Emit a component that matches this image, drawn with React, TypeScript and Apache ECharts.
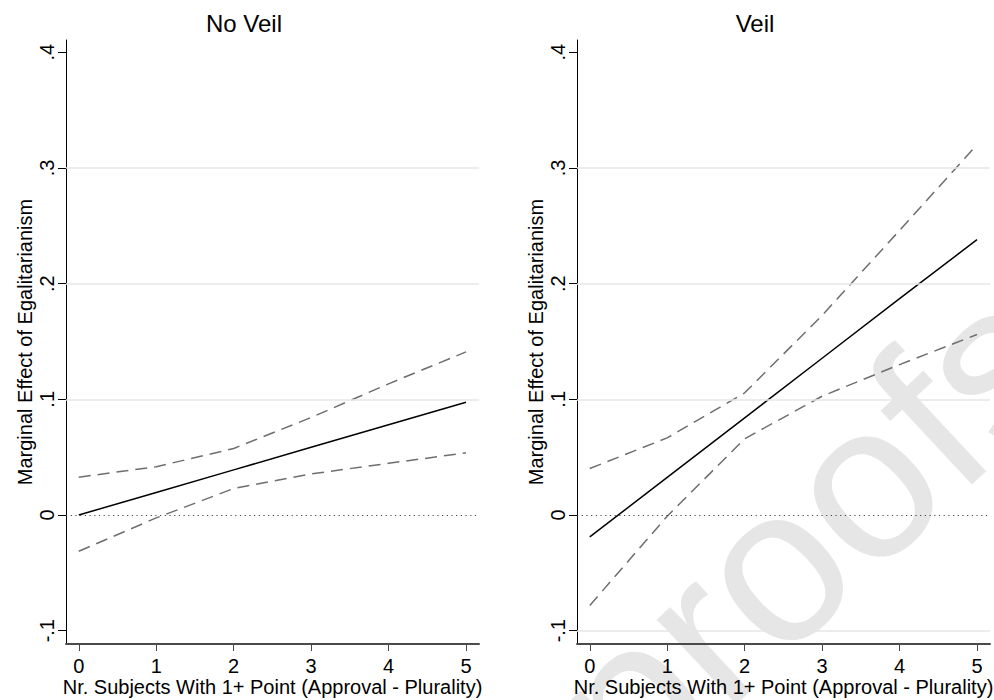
import React, { useEffect, useRef } from "react";
import * as echarts from "echarts";

const xValues = [0, 1, 2, 3, 4, 5];
const yTicks = [-0.1, 0, 0.1, 0.2, 0.3, 0.4];

const noVeilEstimate = [0.0, 0.0195, 0.039, 0.0585, 0.078, 0.0975];
const noVeilUpper = [0.0327, 0.0417, 0.0575, 0.0843, 0.1134, 0.141];
const noVeilLower = [-0.0313, -0.0025, 0.0229, 0.0355, 0.0447, 0.0537];

const veilEstimate = [-0.0189, 0.0325, 0.084, 0.1355, 0.187, 0.238];
const veilUpper = [0.0402, 0.0667, 0.1056, 0.1725, 0.246, 0.32];
const veilLower = [-0.0782, -0.001, 0.0659, 0.1027, 0.13, 0.156];

const panelTitles = ["No Veil", "Veil"];
const xAxisTitle = "Nr. Subjects With 1+ Point (Approval - Plurality)";
const yAxisTitle = "Marginal Effect of Egalitarianism";
const noVeilGridLines = [0.1, 0.2, 0.3];
const veilGridLines = [-0.1, 0.1, 0.2, 0.3];
const watermark = "proofs";

const FONT = "'Liberation Sans', Arial, Helvetica, sans-serif";

const fmtY = (v: number) => {
  if (Math.abs(v) < 1e-9) return "0";
  const s = (Math.round(v * 10) / 10).toString();
  return s.replace("0.", ".");
};

const pairs = (ys: number[]) => xValues.map((x, i) => [x, ys[i]]);

export default function App() {
  const ref = useRef<HTMLDivElement>(null);
  useEffect(() => {
    if (!ref.current) return;
    const chart = echarts.init(ref.current, null, { renderer: "svg" });

    const grids = [
      { left: 66, top: 40, width: 413, height: 604, outerBoundsMode: "none", containLabel: false },
      { left: 577, top: 40, width: 413, height: 604, outerBoundsMode: "none", containLabel: false },
    ];

    const xAxes = [0, 1].map((i) => ({
      type: "value",
      gridIndex: i,
      min: -0.165,
      max: 5.168,
      name: xAxisTitle,
      nameLocation: "middle",
      nameGap: 33,
      nameMoveOverlap: false,
      nameTextStyle: { fontFamily: FONT, fontSize: 20, color: "#000" },
      axisLine: {
        show: true,
        onZero: false,
        lineStyle: { color: "#4a4a4a", width: 2 },
      },
      axisTick: {
        show: true,
        customValues: xValues,
        length: 7,
        lineStyle: { color: "#4a4a4a", width: 1 },
      },
      axisLabel: {
        customValues: xValues,
        margin: 12,
        fontFamily: FONT,
        fontSize: 20,
        color: "#000",
        formatter: (v: number) => String(v),
      },
      splitLine: { show: false },
    }));

    const yAxes = [0, 1].map((i) => ({
      type: "value",
      gridIndex: i,
      min: -0.1115,
      max: 0.4106,
      name: yAxisTitle,
      nameLocation: "middle",
      nameGap: 31,
      nameMoveOverlap: false,
      nameTextStyle: { fontFamily: FONT, fontSize: 20, color: "#000" },
      axisLine: {
        show: true,
        onZero: false,
        lineStyle: { color: "#000", width: 1 },
      },
      axisTick: {
        show: true,
        customValues: yTicks,
        length: 8,
        lineStyle: { color: "#000", width: 1 },
      },
      axisLabel: {
        customValues: yTicks,
        rotate: 90,
        margin: 9,
        fontFamily: FONT,
        fontSize: 20,
        color: "#000",
        formatter: (v: number) => fmtY(v),
      },
      splitLine: { show: false },
    }));

    const makeSeries = (
      idx: number,
      est: number[],
      up: number[],
      lo: number[],
      gridLines: number[]
    ) => [
      {
        type: "line",
        xAxisIndex: idx,
        yAxisIndex: idx,
        data: [],
        silent: true,
        z: 1,
        markLine: {
          silent: true,
          symbol: "none",
          label: { show: false },
          lineStyle: { color: "#e6e6e6", width: 1.5, type: "solid" },
          data: gridLines.map((v) => ({ yAxis: v })),
        },
      },
      {
        type: "line",
        xAxisIndex: idx,
        yAxisIndex: idx,
        data: [],
        silent: true,
        z: 2,
        markLine: {
          silent: true,
          symbol: "none",
          label: { show: false },
          lineStyle: { color: "#444", width: 1, type: [1.2, 3.5] },
          data: [{ yAxis: 0 }],
        },
      },
      {
        type: "line",
        xAxisIndex: idx,
        yAxisIndex: idx,
        data: pairs(up),
        symbol: "none",
        z: 3,
        lineStyle: { color: "#6e6e6e", width: 1.5, type: [12, 7] },
      },
      {
        type: "line",
        xAxisIndex: idx,
        yAxisIndex: idx,
        data: pairs(lo),
        symbol: "none",
        z: 3,
        lineStyle: { color: "#6e6e6e", width: 1.5, type: [12, 7] },
      },
      {
        type: "line",
        xAxisIndex: idx,
        yAxisIndex: idx,
        data: pairs(est),
        symbol: "none",
        z: 4,
        lineStyle: { color: "#000", width: 1.5, type: "solid" },
      },
    ];

    const angle = (43 * Math.PI) / 180;

    chart.setOption({
      animation: false,
      backgroundColor: "#fff",
      grid: grids,
      xAxis: xAxes,
      yAxis: yAxes,
      series: [
        ...makeSeries(0, noVeilEstimate, noVeilUpper, noVeilLower, noVeilGridLines),
        ...makeSeries(1, veilEstimate, veilUpper, veilLower, veilGridLines),
      ],
      graphic: [
        {
          type: "text",
          x: 659,
          y: 823,
          rotation: angle,
          z: -10,
          silent: true,
          style: {
            text: watermark,
            fontFamily: FONT,
            fontSize: 220,
            fill: "#e6e6e6",
            textAlign: "left",
            textVerticalAlign: "bottom",
          },
        },
        {
          type: "text",
          x: 244,
          y: 23,
          style: {
            text: panelTitles[0],
            fontFamily: FONT,
            fontSize: 24,
            fill: "#000",
            textAlign: "center",
            textVerticalAlign: "middle",
          },
        },
        {
          type: "text",
          x: 755,
          y: 23,
          style: {
            text: panelTitles[1],
            fontFamily: FONT,
            fontSize: 24,
            fill: "#000",
            textAlign: "center",
            textVerticalAlign: "middle",
          },
        },
      ],
    });
    return () => chart.dispose();
  }, []);
  return (
    <div
      ref={ref}
      style={{ position: "fixed", left: 0, top: 0, width: 994, height: 700 }}
    />
  );
}
